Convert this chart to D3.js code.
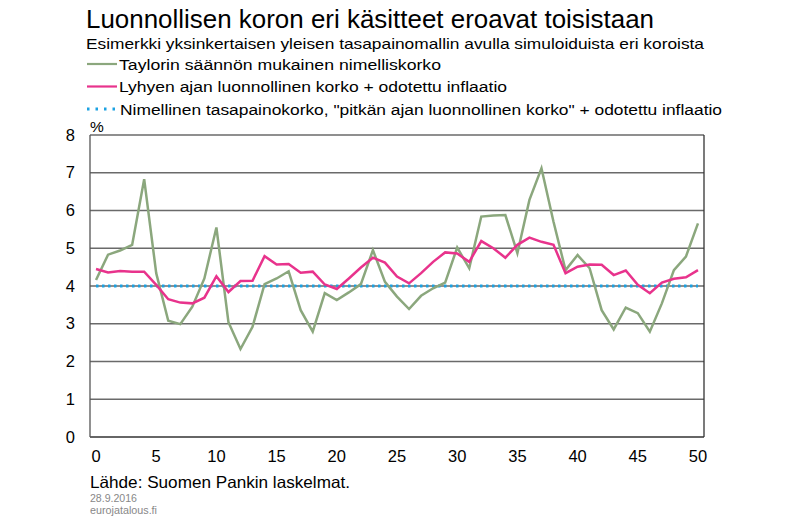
<!DOCTYPE html>
<html><head><meta charset="utf-8">
<script src="https://cdn.jsdelivr.net/npm/d3@7"></script>
<style>body{margin:0;background:#fff}svg{display:block}text{font-family:"Liberation Sans",Arial,sans-serif}</style>
</head><body>
<script>
const periods = d3.range(0, 51);
const taylor = [4.16,4.83,4.94,5.09,6.83,4.34,3.08,2.99,3.45,4.2,5.55,3.04,2.33,2.92,4.05,4.2,4.39,3.36,2.79,3.81,3.63,3.83,4.05,4.95,4.11,3.72,3.39,3.74,3.94,4.09,5.02,4.47,5.84,5.87,5.88,4.87,6.28,7.12,5.7,4.42,4.82,4.47,3.36,2.85,3.43,3.28,2.79,3.54,4.42,4.78,5.66];
const shortRun = [4.45,4.36,4.4,4.38,4.38,4.03,3.65,3.56,3.54,3.69,4.26,3.84,4.13,4.14,4.79,4.57,4.58,4.35,4.38,4.04,3.92,4.2,4.49,4.75,4.62,4.25,4.07,4.34,4.64,4.89,4.86,4.64,5.19,5.0,4.75,5.09,5.28,5.17,5.09,4.34,4.51,4.57,4.56,4.29,4.41,4.03,3.81,4.09,4.19,4.23,4.42];
const equilibrium = periods.map(() => 4.0);
const yTicks = [0,1,2,3,4,5,6,7,8];
const xTicks = [0,5,10,15,20,25,30,35,40,45,50];
const seriesNames = ["Taylorin säännön mukainen nimelliskorko","Lyhyen ajan luonnollinen korko + odotettu inflaatio","Nimellinen tasapainokorko, \"pitkän ajan luonnollinen korko\" + odotettu inflaatio"];
const colors = ["#8BA77D","#E8338C","#1BA1E2"];

const W=800,H=522, L=90, R=704, T=135, B=437;
const svg = d3.select("body").append("svg").attr("width",W).attr("height",H);
const x = d3.scalePoint().domain(periods).range([L,R]).padding(0.5);
const y = d3.scaleLinear().domain([0,8]).range([B,T]);

function fitText(sel, w){ sel.attr("textLength",w).attr("lengthAdjust","spacingAndGlyphs"); return sel; }

fitText(svg.append("text").attr("x",86).attr("y",28).attr("font-size",25.5).text("Luonnollisen koron eri käsitteet eroavat toisistaan"),568);
fitText(svg.append("text").attr("x",86).attr("y",49).attr("font-size",15).text("Esimerkki yksinkertaisen yleisen tasapainomallin avulla simuloiduista eri koroista"),618);

// legend
const ly=[64,86.5,109];
const lw=[322,388,602];
seriesNames.forEach((n,i)=>{
  const g=svg.append("g");
  if(i<2){
    g.append("line").attr("x1",87).attr("x2",117).attr("y1",ly[i]).attr("y2",ly[i]).attr("stroke",colors[i]).attr("stroke-width",2.2);
  } else {
    g.append("line").attr("x1",87).attr("x2",118).attr("y1",ly[i]).attr("y2",ly[i]).attr("stroke",colors[i]).attr("stroke-width",3).attr("stroke-dasharray","2.5,6");
  }
  fitText(g.append("text").attr("x",i<2?119:120).attr("y",ly[i]+5.5).attr("font-size",15.5).text(n),lw[i]);
});

svg.append("text").attr("x",90).attr("y",132).attr("font-size",15.5).text("%");

// grid
svg.append("g").selectAll("line").data(yTicks.filter(d=>d>0)).join("line")
  .attr("x1",L).attr("x2",R).attr("y1",d=>y(d)).attr("y2",d=>y(d))
  .attr("stroke","#6a6a6a").attr("stroke-width",1.3);
svg.append("line").attr("x1",L).attr("x2",R).attr("y1",B).attr("y2",B).attr("stroke","#333").attr("stroke-width",1.3);
svg.append("line").attr("x1",L).attr("x2",L).attr("y1",T).attr("y2",B).attr("stroke","#555").attr("stroke-width",1.3);
svg.append("line").attr("x1",R).attr("x2",R).attr("y1",T).attr("y2",B).attr("stroke","#333").attr("stroke-width",1.3);

// y labels
svg.append("g").selectAll("text").data(yTicks).join("text")
  .attr("x",75).attr("y",d=>y(d)+5.5).attr("text-anchor","end").attr("font-size",16.5).text(d=>d);
// x labels
svg.append("g").selectAll("text").data(xTicks).join("text")
  .attr("x",d=>x(d)).attr("y",462).attr("text-anchor","middle").attr("font-size",16.5).text(d=>d);

const line = d3.line().x((d,i)=>x(periods[i])).y(d=>y(d));
svg.append("path").datum(equilibrium).attr("d",line).attr("fill","none").attr("stroke",colors[2]).attr("stroke-width",3).attr("stroke-dasharray","2.5,3.5");
svg.append("path").datum(taylor).attr("d",line).attr("fill","none").attr("stroke",colors[0]).attr("stroke-width",2.5).attr("stroke-linejoin","miter");
svg.append("path").datum(shortRun).attr("d",line).attr("fill","none").attr("stroke",colors[1]).attr("stroke-width",2.5);

fitText(svg.append("text").attr("x",90).attr("y",488).attr("font-size",16.5).text("Lähde: Suomen Pankin laskelmat."),260);
fitText(svg.append("text").attr("x",90).attr("y",501.5).attr("font-size",10).attr("fill","#888").text("28.9.2016"),47);
fitText(svg.append("text").attr("x",90).attr("y",513.5).attr("font-size",10).attr("fill","#888").text("eurojatalous.fi"),67);
</script>
</body></html>
